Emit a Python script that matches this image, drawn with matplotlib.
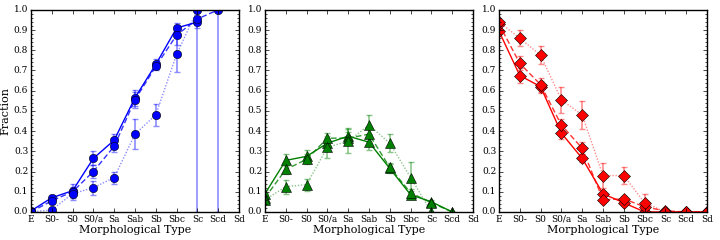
import numpy as np
import matplotlib
matplotlib.use('Agg')
import matplotlib.pyplot as plt
from matplotlib.ticker import AutoMinorLocator

plt.style.use('classic')
plt.rcParams['font.family'] = 'DejaVu Serif'

types = ['E', 'S0-', 'S0', 'S0/a', 'Sa', 'Sab', 'Sb', 'Sbc', 'Sc', 'Scd', 'Sd']
nan = np.nan

# blue panel (circles)
blue_solid = [0.005, 0.07, 0.105, 0.265, 0.355, 0.565, 0.73, 0.91, 0.94, nan, nan]
blue_solid_err = [0.0, 0.015, 0.02, 0.035, 0.03, 0.04, 0.025, 0.025, 0.03, nan, nan]
blue_dash = [0.0, 0.055, 0.10, 0.20, 0.325, 0.555, 0.72, 0.875, 0.955, 1.0, nan]
blue_dash_err = [0.0, 0.015, 0.04, 0.03, 0.03, 0.04, 0.02, 0.05, 0.03, 1.0, nan]
blue_dot = [0.0, 0.01, 0.09, 0.12, 0.17, 0.385, 0.48, 0.78, 1.0, nan, nan]
blue_dot_err = [0.0, 0.01, 0.02, 0.035, 0.03, 0.075, 0.055, 0.09, 1.0, nan, nan]

# green panel (triangles)
green_solid = [0.09, 0.255, 0.275, 0.34, 0.375, 0.345, 0.215, 0.085, 0.05, 0.0, nan]
green_solid_err = [0.02, 0.03, 0.03, 0.025, 0.04, 0.04, 0.02, 0.02, 0.01, 0.0, nan]
green_dash = [0.07, 0.21, 0.26, 0.365, 0.365, 0.385, 0.22, 0.095, 0.045, 0.0, nan]
green_dash_err = [0.02, 0.02, 0.025, 0.025, 0.03, 0.04, 0.02, 0.02, 0.01, 0.0, nan]
green_dot = [0.06, 0.125, 0.135, 0.32, 0.35, 0.43, 0.34, 0.17, 0.0, nan, nan]
green_dot_err = [0.02, 0.035, 0.03, 0.055, 0.06, 0.05, 0.045, 0.075, 0.0, nan, nan]

# red panel (diamonds)
red_solid = [0.895, 0.675, 0.62, 0.39, 0.265, 0.09, 0.045, 0.0, 0.0, 0.0, 0.0]
red_solid_err = [0.0, 0.035, 0.03, 0.03, 0.02, 0.015, 0.01, 0.0, 0.0, 0.0, 0.0]
red_dash = [0.93, 0.735, 0.63, 0.43, 0.315, 0.06, 0.065, 0.025, 0.005, 0.0, 0.0]
red_dash_err = [0.0, 0.035, 0.035, 0.03, 0.03, 0.015, 0.015, 0.01, 0.0, 0.0, 0.0]
red_dot = [0.94, 0.86, 0.775, 0.555, 0.48, 0.18, 0.18, 0.045, 0.0, 0.0, 0.0]
red_dot_err = [0.0, 0.04, 0.045, 0.065, 0.07, 0.06, 0.04, 0.045, 0.0, 0.0, 0.0]

panels = [
    ('b', 'o', 6, [(blue_solid, blue_solid_err), (blue_dash, blue_dash_err), (blue_dot, blue_dot_err)]),
    ('g', '^', 6.5, [(green_solid, green_solid_err), (green_dash, green_dash_err), (green_dot, green_dot_err)]),
    ('r', 'D', 6, [(red_solid, red_solid_err), (red_dash, red_dash_err), (red_dot, red_dot_err)]),
]
# (dash pattern, line alpha)
styles = [((None, None), 1.0), ((4, 2), 0.8), ((1, 1.2), 0.45)]

fig = plt.figure(figsize=(7.2, 2.4), dpi=100)
lefts = [0.043, 0.368, 0.693]
x = np.arange(len(types))

for i, (col, mk, ms, series) in enumerate(panels):
    ax = fig.add_axes([lefts[i], 0.117, 0.289, 0.842])
    for (vals, errs), (dash, a) in zip(series, styles):
        vals = np.array(vals, dtype=float)
        errs = np.array(errs, dtype=float)
        ax.errorbar(x, vals, yerr=errs, fmt='none', ecolor=col, alpha=0.45,
                    elinewidth=1.2, capsize=2, capthick=1)
        ln, = ax.plot(x, vals, color=col, alpha=a, lw=1)
        if dash[0] is not None:
            ln.set_dashes(dash)
        ax.plot(x, vals, ls='none', marker=mk, ms=ms, color=col,
                mec='k', mew=0.4)
    ax.set_xlim(0, 10)
    ax.set_ylim(0, 1)
    ax.set_xticks(x)
    ax.set_xticklabels(types, fontsize=6.5)
    ax.set_yticks(np.arange(0, 1.01, 0.1))
    ax.set_yticklabels(['%.1f' % v for v in np.arange(0, 1.01, 0.1)], fontsize=6.5)
    ax.yaxis.set_minor_locator(AutoMinorLocator(5))
    ax.tick_params(which='major', length=3, pad=2)
    ax.tick_params(which='minor', length=1.5)
    ax.set_xlabel('Morphological Type', fontsize=8, labelpad=1)
    if i == 0:
        ax.set_ylabel('Fraction', fontsize=8, labelpad=2)

fig.savefig('out.png', dpi=100)
